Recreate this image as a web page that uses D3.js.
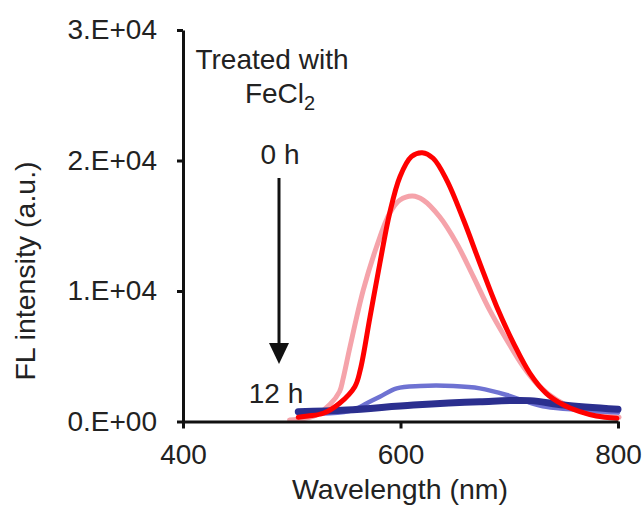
<!DOCTYPE html>
<html>
<head>
<meta charset="utf-8">
<script src="https://cdn.jsdelivr.net/npm/d3@7"></script>
<style>
  html, body { margin: 0; padding: 0; background: #fff; }
  svg text { font-family: "Liberation Sans", Arial, sans-serif; fill: #222; }
</style>
</head>
<body>
<svg id="chart" width="644" height="510"></svg>
<script>
// ---- data ----
const xTicks = [400, 600, 800];
const yTicks = [0, 10000, 20000, 30000];
const yTickLabels = ["0.E+00", "1.E+04", "2.E+04", "3.E+04"];

// wavelength (nm), intensity (a.u.)
const s0hWl  = [506, 515, 529, 544, 558, 563, 572, 581, 590, 599.5, 610, 620, 630, 642.5, 658, 673, 688.5, 704, 719, 734, 750, 765, 780, 799];
const s0hVal = [320, 420, 630, 1400, 2670, 3950, 8030, 12120, 15950, 18760, 20290, 20600, 20170, 18500, 15440, 12120, 8800, 5990, 3690, 2160, 1260, 750, 420, 245];

const s1Wl  = [498, 520, 535, 544, 547, 553.6, 565.8, 578, 590, 599.5, 611, 621, 636, 651.7, 667, 682, 697.7, 713, 728, 743.6, 759, 777, 801];
const s1Val = [120, 400, 1300, 2300, 3200, 5730, 10080, 13390, 15950, 16970, 17280, 16970, 15690, 13650, 11100, 8540, 6250, 4200, 2670, 1650, 1010, 570, 320];

const s2Wl  = [507, 535, 556.6, 569, 581, 596.5, 618, 648.5, 673, 697.7, 716, 734, 765, 800];
const s2Val = [630, 630, 880, 1400, 1900, 2540, 2720, 2720, 2540, 2030, 1520, 1130, 880, 680];

const s3Wl  = [506, 550.5, 611.8, 673, 719, 750, 800];
const s3Val = [750, 880, 1260, 1520, 1600, 1260, 930];

const series = [
  { wl: s1Wl, val: s1Val, color: "#f5a3aa", width: 5 },
  { wl: s2Wl, val: s2Val, color: "#6e72d2", width: 4.5 },
  { wl: s3Wl, val: s3Val, color: "#2b2f8f", width: 7 },
  { wl: s0hWl, val: s0hVal, color: "#ff0000", width: 5 }
];

// ---- chart ----
const svg = d3.select("#chart");
const x = d3.scaleLinear().domain([400, 800]).range([183, 618]);
const y = d3.scaleLinear().domain([0, 30000]).range([421.5, 30]);

const line = d3.line()
  .x(d => x(d[0]))
  .y(d => y(d[1]))
  .curve(d3.curveCatmullRom.alpha(0.5));

series.forEach(s => {
  const pts = s.wl.map((w, i) => [w, s.val[i]]);
  svg.append("path")
    .attr("d", line(pts))
    .attr("fill", "none")
    .attr("stroke", s.color)
    .attr("stroke-width", s.width)
    .attr("stroke-linejoin", "round")
    .attr("stroke-linecap", "round");
});

// axes
const yAxis = d3.axisLeft(y).tickValues(yTicks)
  .tickFormat((d, i) => yTickLabels[i])
  .tickSize(6).tickSizeOuter(0).tickPadding(20);
const gy = svg.append("g").attr("transform", "translate(183,0)").call(yAxis);

const xAxis = d3.axisBottom(x).tickValues(xTicks)
  .tickFormat(d3.format("d"))
  .tickSize(7).tickSizeOuter(0).tickPadding(16);
const gx = svg.append("g").attr("transform", "translate(0,421.5)").call(xAxis);

[gx, gy].forEach(g => {
  g.select(".domain").attr("stroke", "#111").attr("stroke-width", 3);
  g.selectAll(".tick line").attr("stroke", "#111").attr("stroke-width", 3);
  g.selectAll(".tick text").attr("font-size", 28).attr("fill", "#222")
    .style("font-family", "'Liberation Sans', Arial, sans-serif");
});

// axis titles
svg.append("text")
  .attr("x", 400).attr("y", 499)
  .attr("text-anchor", "middle").attr("font-size", 28.5)
  .text("Wavelength (nm)");

svg.append("text")
  .attr("transform", "translate(35,271) rotate(-90)")
  .attr("text-anchor", "middle").attr("font-size", 28.5)
  .text("FL intensity (a.u.)");

// annotations
svg.append("text").attr("x", 272).attr("y", 69)
  .attr("text-anchor", "middle").attr("font-size", 28)
  .text("Treated with");

const fe = svg.append("text").attr("x", 280).attr("y", 103)
  .attr("text-anchor", "middle").attr("font-size", 28);
fe.append("tspan").text("FeCl");
fe.append("tspan").attr("font-size", 20).attr("dy", 7).text("2");

svg.append("text").attr("x", 280).attr("y", 164)
  .attr("text-anchor", "middle").attr("font-size", 28)
  .text("0 h");

svg.append("text").attr("x", 276).attr("y", 403)
  .attr("text-anchor", "middle").attr("font-size", 28)
  .text("12 h");

// arrow
svg.append("line")
  .attr("x1", 279).attr("y1", 178).attr("x2", 279).attr("y2", 345)
  .attr("stroke", "#111").attr("stroke-width", 3);
svg.append("path")
  .attr("d", "M269,343 L289,343 L279,364 Z")
  .attr("fill", "#111");
</script>
</body>
</html>
